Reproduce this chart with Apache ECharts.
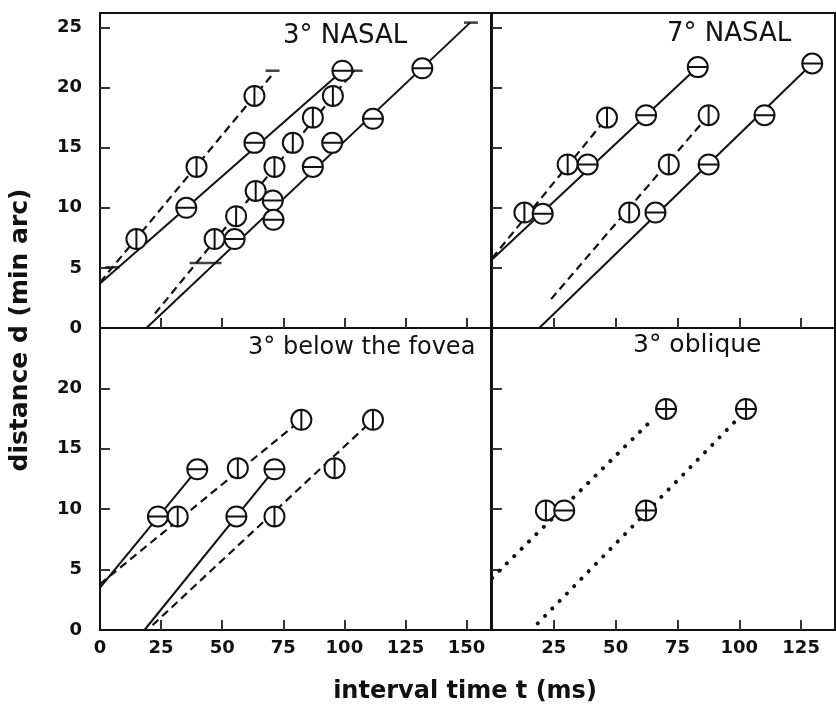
<!DOCTYPE html>
<html>
<head>
<meta charset="utf-8">
<script src="https://cdn.jsdelivr.net/npm/echarts@6/dist/echarts.min.js"></script>
<style>
html,body{margin:0;padding:0;background:#fff;}
#chart{width:836px;height:710px;}
</style>
</head>
<body>
<div id="chart"></div>
<script>
// ---------- tick labels ----------
const xLabelsLeft = [0, 25, 50, 75, 100, 125, 150];
const xTicksLeft = [25, 50, 75, 100, 125, 150];
const xLabelsRight = [25, 50, 75, 100, 125];
const xTicksRight = [25, 50, 75, 100, 125];
const yLabelsTop = [0, 5, 10, 15, 20, 25];
const yTicksTop = [5, 10, 15, 20, 25];
const yLabelsBottom = [0, 5, 10, 15, 20];
const yTicksBottom = [5, 10, 15, 20];

// ---------- titles ----------
const panelTitles = ['3° NASAL', '7° NASAL', '3° below the fovea', '3° oblique'];
const xTitle = 'interval time t (ms)';
const yTitle = 'distance d (min arc)';

// ---------- 3° NASAL (panel 0) ----------
const nasal3DashAPts = [[14.9, 7.4], [39.5, 13.4], [63.2, 19.3]];
const nasal3DashALine = [[0, 3.8], [70.6, 21.1]];
const nasal3SolidBPts = [[35.3, 10.0], [63.2, 15.4], [99.2, 21.4]];
const nasal3SolidBLine = [[0, 3.7], [99.2, 21.4]];
const nasal3DashCPts = [[46.9, 7.4], [55.7, 9.3], [63.7, 11.4], [71.4, 13.4], [78.9, 15.4], [87.1, 17.5], [95.3, 19.3]];
const nasal3DashCLine = [[22.5, 1.2], [104.0, 21.4]];
const nasal3SolidDPts = [[55.1, 7.4], [70.7, 10.6], [71.0, 9.0], [87.1, 13.4], [95.0, 15.4], [111.7, 17.4], [131.9, 21.6]];
const nasal3SolidDLine = [[19.0, 0], [151.5, 25.4]];
const nasal3EndBars = [[5.1, 5.05], [70.6, 21.4], [104.6, 21.4], [151.8, 25.4]];
const nasal3WideBars = [[43.2, 5.4]];

// ---------- 7° NASAL (panel 1) ----------
const nasal7DashEPts = [[13.1, 9.6], [30.6, 13.6], [46.5, 17.5]];
const nasal7DashELine = [[0, 5.8], [46.5, 17.5]];
const nasal7SolidFPts = [[20.5, 9.5], [38.7, 13.6], [62.3, 17.7], [83.2, 21.7]];
const nasal7SolidFLine = [[0, 5.7], [83.2, 21.7]];
const nasal7DashGPts = [[55.5, 9.6], [71.5, 13.6], [87.6, 17.7]];
const nasal7DashGLine = [[23.9, 2.4], [87.6, 17.7]];
const nasal7SolidHPts = [[66.1, 9.6], [87.6, 13.6], [110.2, 17.7], [129.5, 22.0]];
const nasal7SolidHLine = [[19.1, 0], [129.5, 22.0]];

// ---------- 3° below the fovea (panel 2) ----------
const foveaSolidIPts = [[23.7, 9.4], [39.8, 13.3]];
const foveaSolidILine = [[0, 3.5], [39.8, 13.3]];
const foveaDashJPts = [[31.8, 9.4], [56.4, 13.4], [82.4, 17.4]];
const foveaDashJLine = [[0, 3.8], [82.4, 17.4]];
const foveaSolidKPts = [[55.8, 9.4], [71.4, 13.3]];
const foveaSolidKLine = [[18.2, 0], [71.4, 13.3]];
const foveaDashLPts = [[71.4, 9.4], [96.0, 13.4], [111.7, 17.4]];
const foveaDashLLine = [[21.5, 0.4], [111.7, 17.4]];

// ---------- 3° oblique (panel 3) ----------
const obliqueVPts = [[21.8, 9.9]];
const obliqueHPts = [[29.2, 9.9]];
const obliqueCrossPts = [[70.4, 18.3], [62.3, 9.9], [102.7, 18.3]];
const obliqueDotMLine = [[0, 4.3], [65.7, 17.6]];
const obliqueDotNLine = [[18.5, 0.55], [98.0, 17.2]];

// ---------- styling ----------
const FONT = '"DejaVu Sans", "Liberation Sans", sans-serif';
const INK = '#111';
const CIRCLE = 'M0,-10C5.523,-10,10,-5.523,10,0C10,5.523,5.523,10,0,10C-5.523,10,-10,5.523,-10,0C-10,-5.523,-5.523,-10,0,-10Z';
const SYM_H = 'path://' + CIRCLE + 'M-10,0L10,0';
const SYM_V = 'path://' + CIRCLE + 'M0,-10L0,10';
const SYM_X = 'path://' + CIRCLE + 'M-10,0L10,0M0,-10L0,10';

const grids = [
  { left: 100, top: 13, width: 391, height: 315 },
  { left: 492, top: 13, width: 343, height: 315 },
  { left: 100, top: 328, width: 391, height: 302 },
  { left: 492, top: 328, width: 343, height: 302 }
].map(g => Object.assign({ show: true, borderColor: INK, borderWidth: 2, backgroundColor: 'transparent' }, g));

function makeX(i, max, labels, ticks, showLabels) {
  return {
    type: 'value', gridIndex: i, min: 0, max: max,
    axisLine: { show: true, onZero: false, lineStyle: { color: INK, width: 2 } },
    axisTick: { show: true, inside: true, length: 10, customValues: ticks, lineStyle: { color: '#333', width: 2 } },
    axisLabel: { show: showLabels, customValues: labels, margin: 9, fontFamily: FONT, fontWeight: 'bold', fontSize: 18, color: INK },
    splitLine: { show: false }
  };
}
function makeY(i, max, labels, ticks, showLabels) {
  return {
    type: 'value', gridIndex: i, min: 0, max: max,
    axisLine: { show: true, onZero: false, lineStyle: { color: INK, width: 2 } },
    axisTick: { show: true, inside: true, length: 10, customValues: ticks, lineStyle: { color: '#333', width: 2 } },
    axisLabel: { show: showLabels, customValues: labels, margin: 18, fontFamily: FONT, fontWeight: 'bold', fontSize: 18, color: INK },
    splitLine: { show: false }
  };
}

const xAxes = [
  makeX(0, 160, xLabelsLeft, xTicksLeft, false),
  makeX(1, 138.7, xLabelsRight, xTicksRight, false),
  makeX(2, 160, xLabelsLeft, xTicksLeft, true),
  makeX(3, 138.7, xLabelsRight, xTicksRight, true)
];
const yAxes = [
  makeY(0, 26.2, yLabelsTop, yTicksTop, true),
  makeY(1, 26.2, yLabelsTop, yTicksTop, false),
  makeY(2, 25, yLabelsBottom, yTicksBottom, true),
  makeY(3, 25, yLabelsBottom, yTicksBottom, false)
];

const STYLE_SOLID = { color: INK, width: 2, type: 'solid' };
const STYLE_DASH = { color: INK, width: 2.2, type: [8, 5] };
const STYLE_DOT = { color: INK, width: 4, type: [0.1, 10.3], cap: 'round' };

function lineS(i, data, style) {
  return { type: 'line', xAxisIndex: i, yAxisIndex: i, data: data, symbol: 'none', silent: true,
           lineStyle: style, z: 2, animation: false };
}
function markS(i, data, sym) {
  return { type: 'scatter', xAxisIndex: i, yAxisIndex: i, data: data, symbol: sym, symbolSize: 20, silent: true,
           itemStyle: { color: '#fff', borderColor: INK, borderWidth: 2, opacity: 1 }, z: 5, animation: false };
}
function barS(i, data, size) {
  return { type: 'scatter', xAxisIndex: i, yAxisIndex: i, data: data, symbol: 'rect', symbolSize: size, silent: true,
           itemStyle: { color: INK }, z: 3, animation: false };
}

const series = [
  // panel 0
  lineS(0, nasal3DashALine, STYLE_DASH),
  lineS(0, nasal3SolidBLine, STYLE_SOLID),
  lineS(0, nasal3DashCLine, STYLE_DASH),
  lineS(0, nasal3SolidDLine, STYLE_SOLID),
  barS(0, nasal3EndBars, [14, 2.5]),
  barS(0, nasal3WideBars, [32, 2.5]),
  markS(0, nasal3DashAPts, SYM_V),
  markS(0, nasal3SolidBPts, SYM_H),
  markS(0, nasal3DashCPts, SYM_V),
  markS(0, nasal3SolidDPts, SYM_H),
  // panel 1
  lineS(1, nasal7DashELine, STYLE_DASH),
  lineS(1, nasal7SolidFLine, STYLE_SOLID),
  lineS(1, nasal7DashGLine, STYLE_DASH),
  lineS(1, nasal7SolidHLine, STYLE_SOLID),
  markS(1, nasal7DashEPts, SYM_V),
  markS(1, nasal7SolidFPts, SYM_H),
  markS(1, nasal7DashGPts, SYM_V),
  markS(1, nasal7SolidHPts, SYM_H),
  // panel 2
  lineS(2, foveaSolidILine, STYLE_SOLID),
  lineS(2, foveaDashJLine, STYLE_DASH),
  lineS(2, foveaSolidKLine, STYLE_SOLID),
  lineS(2, foveaDashLLine, STYLE_DASH),
  markS(2, foveaSolidIPts, SYM_H),
  markS(2, foveaDashJPts, SYM_V),
  markS(2, foveaSolidKPts, SYM_H),
  markS(2, foveaDashLPts, SYM_V),
  // panel 3
  lineS(3, obliqueDotMLine, STYLE_DOT),
  lineS(3, obliqueDotNLine, STYLE_DOT),
  markS(3, obliqueVPts, SYM_V),
  markS(3, obliqueHPts, SYM_H),
  markS(3, obliqueCrossPts, SYM_X)
];

function txt(text, x, y, size, extra) {
  return Object.assign({
    type: 'text', x: x, y: y, silent: true, z: 10,
    style: { text: text, fontFamily: FONT, fontSize: size, fill: INK, align: 'left', verticalAlign: 'middle' }
  }, extra || {});
}

const graphic = [
  txt(panelTitles[0], 283, 36, 26),
  txt(panelTitles[1], 667, 34, 26),
  txt(panelTitles[2], 248, 348, 24),
  txt(panelTitles[3], 633, 345, 25),
  { type: 'text', x: 465, y: 692, silent: true, z: 10,
    style: { text: xTitle, fontFamily: FONT, fontWeight: 'bold', fontSize: 24, fill: INK, align: 'center', verticalAlign: 'middle' } },
  { type: 'text', x: 20, y: 330, rotation: Math.PI / 2, silent: true, z: 10,
    style: { text: yTitle, fontFamily: FONT, fontWeight: 'bold', fontSize: 25, fill: INK, align: 'center', verticalAlign: 'middle' } }
];

const chart = echarts.init(document.getElementById('chart'), null, { renderer: 'canvas' });
chart.setOption({
  animation: false,
  backgroundColor: '#fff',
  grid: grids,
  xAxis: xAxes,
  yAxis: yAxes,
  series: series,
  graphic: graphic
});
</script>
</body>
</html>
